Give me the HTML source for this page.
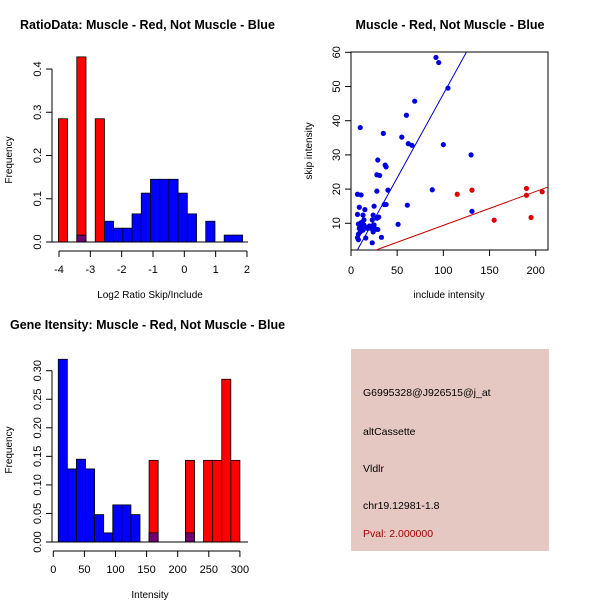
<!DOCTYPE html>
<html><head><meta charset="utf-8"><style>
html,body{margin:0;padding:0;background:#fff}
svg{display:block;font-family:"Liberation Sans",Arial,sans-serif}
</style></head><body>
<svg id="s" width="600" height="600" viewBox="0 0 600 600" xmlns="http://www.w3.org/2000/svg">
<rect width="600" height="600" fill="#fff"/>
<g id="p1">
<text x="20" y="29" font-size="12.5" font-weight="bold">RatioData: Muscle - Red, Not Muscle - Blue</text>
<text transform="translate(12,160) rotate(-90)" text-anchor="middle" font-size="10">Frequency</text>
<text x="150" y="298" text-anchor="middle" font-size="10">Log2 Ratio Skip/Include</text>
</g>
<g id="p2">
<text x="450" y="29" text-anchor="middle" font-size="12.5" font-weight="bold">Muscle - Red, Not Muscle - Blue</text>
<text transform="translate(312,151) rotate(-90)" text-anchor="middle" font-size="10">skip intensity</text>
<text x="449" y="298" text-anchor="middle" font-size="10">include intensity</text>
<rect x="351" y="52" width="197" height="198" fill="none" stroke="#000"/>
</g>
<g id="p3">
<text x="10" y="329" font-size="12.5" font-weight="bold">Gene Itensity: Muscle - Red, Not Muscle - Blue</text>
<text transform="translate(12,450) rotate(-90)" text-anchor="middle" font-size="10">Frequency</text>
<text x="150" y="598" text-anchor="middle" font-size="10">Intensity</text>
</g>
<g>
<rect x="351" y="349" width="198" height="202" fill="#e5c8c2"/>
<text x="363" y="396" font-size="10.5">G6995328@J926515@j_at</text>
<text x="363" y="435" font-size="10.5">altCassette</text>
<text x="363" y="472" font-size="10.5">Vldlr</text>
<text x="363" y="509" font-size="10.5">chr19.12981-1.8</text>
<text x="363" y="537" font-size="10.5" fill="#a00000">Pval: 2.000000</text>
</g>
</svg>
<script>
// ---- Panel 1 data
const ratioBinStart = -4.02;
const ratioBinWidth = 0.294;
const ratioRed = [0.285,0,0.428,0,0.285,0,0,0,0,0,0,0,0,0,0,0,0,0,0,0];
const ratioBlue = [0,0,0.016,0,0,0.048,0.032,0.032,0.065,0.113,0.145,0.145,0.145,0.113,0.065,0,0.048,0,0.016,0.016];
const ratioXTicks = [-4,-3,-2,-1,0,1,2];
const ratioYTicks = [0,0.1,0.2,0.3,0.4];
// ---- Panel 2 data
const blueInclude = [92,95,105,69,60,10,35,55,62,66,100,130,29,37,38,28,31,88,40,28,7,11,36,38,25,61,9,15,131,7,13,24,28,30,14,23,11,8,10,12,15,20,25,27,29,9,13,18,22,51,10,24,8,7,16,33,8,23,11,14];
const blueSkip = [58.5,57,49.5,45.7,41.6,38,36.3,35.2,33.3,32.8,33,30,28.5,27,26.5,24.2,24,19.8,19.7,19.4,18.5,18.3,15.5,15.5,15,15.3,14.7,14,13.5,12.6,12.4,12.4,11.5,11.8,11,11,10.2,9.8,9.5,9.2,9,9.2,9.5,8.3,8.2,8.5,8,8.5,8.5,9.7,7.5,7.5,6.8,5.8,5.7,5.9,5.2,4.3,9,9.5];
const redInclude = [115,131,155,190,190,195,207];
const redSkip = [18.5,19.7,10.9,20.2,18.2,11.7,19.2];
const blueFit = [-1.2,0.49];
const redFit = [-0.5,0.099];
const scatterXTicks = [0,50,100,150,200];
const scatterYTicks = [10,20,30,40,50,60];
// ---- Panel 3 data
const intBinStart = 8;
const intBinWidth = 14.6;
const intBlue = [0.32,0.128,0.145,0.128,0.048,0.016,0.065,0.065,0.048,0,0.016,0,0,0,0.016,0,0,0,0,0];
const intRed = [0,0,0,0,0,0,0,0,0,0,0.143,0,0,0,0.143,0,0.143,0.143,0.285,0.143];
const intXTicks = [0,50,100,150,200,250,300];
const intYTicks = [0,0.05,0.10,0.15,0.20,0.25,0.30];

const NS='http://www.w3.org/2000/svg';
function mk(parent,tag,attrs){const e=document.createElementNS(NS,tag);for(const k in attrs)e.setAttribute(k,attrs[k]);parent.appendChild(e);return e;}

function histogram(g,o){
  const xs=v=>o.x0px+(v-o.x0)*o.xk, ys=v=>o.y0px-v*o.yk;
  const n=Math.max(o.red.length,o.blue.length);
  for(let i=0;i<n;i++){
    const a=xs(o.start+i*o.width), b=xs(o.start+(i+1)*o.width);
    const r=o.red[i]||0, bl=o.blue[i]||0;
    if(r>0){const e=mk(g,'rect',{x:a,y:ys(r),width:b-a,height:ys(0)-ys(r),fill:'#ff0000',stroke:'#000','stroke-width':0.8});
      
      }
    if(bl>0){const e=mk(g,'rect',{x:a,y:ys(bl),width:b-a,height:ys(0)-ys(bl),fill:r>0?'#700070':'#0000ff',stroke:'#000','stroke-width':0.8});
      
      }
  }
  const yl=mk(g,'line',{x1:o.yAxisX,x2:o.yAxisX,y1:ys(o.yt[0]),y2:ys(o.yt[o.yt.length-1]),stroke:'#000'});
  
  
  o.yt.forEach(t=>{
    mk(g,'line',{x1:o.yAxisX-6,x2:o.yAxisX,y1:ys(t),y2:ys(t),stroke:'#000'});
    const tx=mk(g,'text',{transform:`translate(${o.yAxisX-11},${ys(t)}) rotate(-90)`,'text-anchor':'middle','font-size':11});
    tx.textContent=o.yfmt(t);
    
    
  });
  const base=mk(g,'line',{x1:o.yAxisX,x2:o.baseEnd,y1:ys(0),y2:ys(0),stroke:'#000'});
  
  
  const xl=mk(g,'line',{x1:xs(o.xt[0]),x2:xs(o.xt[o.xt.length-1]),y1:o.xAxisY,y2:o.xAxisY,stroke:'#000'});
  
  
  o.xt.forEach(t=>{
    mk(g,'line',{x1:xs(t),x2:xs(t),y1:o.xAxisY,y2:o.xAxisY+6,stroke:'#000'});
    const tx=mk(g,'text',{x:xs(t),y:o.xAxisY+22,'text-anchor':'middle','font-size':11});
    tx.textContent=String(t);
    
    
  });
}

histogram(document.getElementById('p1'),{start:ratioBinStart,width:ratioBinWidth,red:ratioRed,blue:ratioBlue,
  x0:-4,x0px:59,xk:31.33,y0px:242,yk:432.5,yAxisX:52,xAxisY:251,baseEnd:248,xt:ratioXTicks,yt:ratioYTicks,yfmt:t=>t.toFixed(1)});
histogram(document.getElementById('p3'),{start:intBinStart,width:intBinWidth,red:intRed,blue:intBlue,
  x0:0,x0px:53.3,xk:0.622,y0px:542,yk:571,yAxisX:52,xAxisY:551,baseEnd:248,xt:intXTicks,yt:intYTicks,yfmt:t=>t.toFixed(2)});

(function(){
  const g=document.getElementById('p2');
  const xs=v=>351+v*0.9235, ys=v=>223.3-(v-10)*3.42;
  const clip=mk(g,'clipPath',{id:'sc'});mk(clip,'rect',{x:351,y:52,width:197,height:198});
  const lines=mk(g,'g',{'clip-path':'url(#sc)'});
  const bl=mk(lines,'line',{x1:xs(0),y1:ys(blueFit[0]),x2:xs(220),y2:ys(blueFit[0]+blueFit[1]*220),stroke:'#0000cc'});
  
  
  const rl=mk(lines,'line',{x1:xs(0),y1:ys(redFit[0]),x2:xs(220),y2:ys(redFit[0]+redFit[1]*220),stroke:'#cc0000'});
  
  
  blueInclude.forEach((v,i)=>{const c=mk(g,'circle',{cx:xs(v),cy:ys(blueSkip[i]),r:2.6,fill:'#0000e0'});
    
    });
  redInclude.forEach((v,i)=>{const c=mk(g,'circle',{cx:xs(v),cy:ys(redSkip[i]),r:2.6,fill:'#e00000'});
    
    });
  scatterXTicks.forEach(t=>{mk(g,'line',{x1:xs(t),x2:xs(t),y1:250,y2:256,stroke:'#000'});
    const tx=mk(g,'text',{x:xs(t),y:274,'text-anchor':'middle','font-size':11});tx.textContent=String(t);
    
    });
  scatterYTicks.forEach(t=>{mk(g,'line',{x1:345,x2:351,y1:ys(t),y2:ys(t),stroke:'#000'});
    const tx=mk(g,'text',{transform:`translate(340,${ys(t)}) rotate(-90)`,'text-anchor':'middle','font-size':11});tx.textContent=String(t);
    
    });
})();
</script>
</body></html>
